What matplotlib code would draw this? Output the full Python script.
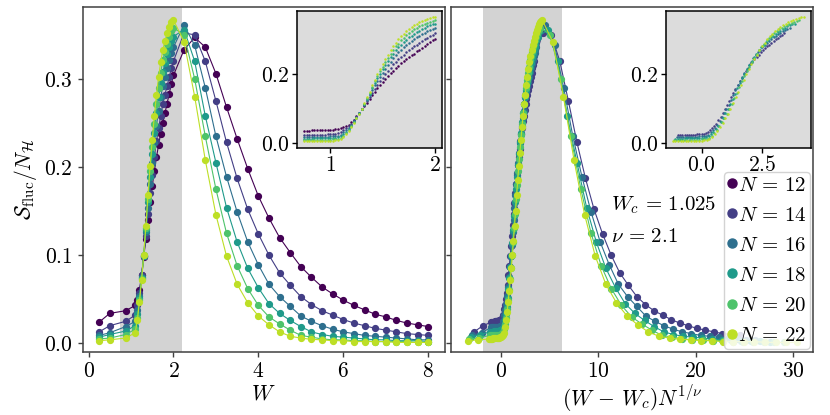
import numpy as np
import matplotlib
matplotlib.use('Agg')
import matplotlib.pyplot as plt
from matplotlib.lines import Line2D

plt.rcParams['font.family'] = 'serif'
plt.rcParams['font.serif'] = ['cmr10']
plt.rcParams['mathtext.fontset'] = 'cm'
plt.rcParams['axes.formatter.use_mathtext'] = True
plt.rcParams['axes.unicode_minus'] = False
plt.rcParams['font.size'] = 15.5

# ---- data ----
N_values = [12, 14, 16, 18, 20, 22]
W_c = 1.025
nu = 2.1

# coarse disorder grid (outside the fine window)
W_low = [0.25, 0.5]
W_high = [2.25, 2.5, 2.75, 3.0, 3.25, 3.5, 3.75, 4.0, 4.25, 4.5, 4.75, 5.0,
          5.25, 5.5, 5.75, 6.0, 6.25, 6.5, 6.75, 7.0, 7.25, 7.5, 7.75, 8.0]

S_low = {
    12: [0.024, 0.034],
    14: [0.013, 0.020],
    16: [0.009, 0.012],
    18: [0.007, 0.010],
    20: [0.005, 0.006],
    22: [0.003, 0.004],
}

S_high = {
    12: [.333, .347, .336, .306, .268, .232, .198, .167, .142, .120, .103, .087,
         .075, .064, .056, .049, .043, .038, .033, .030, .026, .023, .021, .019],
    14: [.352, .350, .320, .275, .228, .187, .152, .124, .100, .080, .066, .053,
         .044, .037, .032, .027, .023, .020, .017, .015, .013, .011, .010, .009],
    16: [.361, .338, .290, .235, .189, .149, .115, .089, .067, .053, .042, .031,
         .025, .020, .016, .013, .011, .009, .008, .007, .006, .005, .004, .004],
    18: [.356, .320, .258, .205, .154, .115, .085, .063, .045, .034, .026, .019,
         .013, .010, .008, .007, .006, .005, .004, .004, .003, .003, .003, .002],
    20: [.350, .300, .235, .175, .125, .088, .062, .043, .030, .022, .015, .009,
         .007, .005, .004, .004, .003, .003, .002, .002, .002, .002, .001, .001],
    22: [.342, .280, .208, .146, .099, .067, .046, .031, .021, .013, .008, .006,
         .0045, .004, .003, .003, .002, .002, .002, .002, .001, .001, .001, .001],
}

# fine disorder grid (inset window)
W_fine = [0.75, 0.775, 0.8, 0.825, 0.85, 0.875, 0.9, 0.925, 0.95, 0.975,
          1.0, 1.025, 1.05, 1.075, 1.1, 1.125, 1.15, 1.175, 1.2, 1.225,
          1.25, 1.275, 1.3, 1.325, 1.35, 1.375, 1.4, 1.425, 1.45, 1.475,
          1.5, 1.525, 1.55, 1.575, 1.6, 1.625, 1.65, 1.675, 1.7, 1.725,
          1.75, 1.775, 1.8, 1.825, 1.85, 1.875, 1.9, 1.925, 1.95, 1.975, 2.0]

S_fine = {
    12: [.036, .036, .036, .037, .037, .037, .037, .037, .038, .038, .038, .039, .040, .041, .043,
         .046, .049, .054, .060, .068, .078, .088, .098, .108, .118, .129, .140, .150, .160, .169,
         .178, .187, .195, .203, .211, .218, .225, .232, .238, .244, .250, .256, .261, .267, .272,
         .278, .283, .289, .294, .299, .304],
    14: [.024, .024, .024, .024, .025, .025, .025, .025, .025, .026, .026, .026, .027, .029, .032,
         .039, .043, .050, .057, .066, .077, .088, .099, .110, .122, .134, .147, .159, .170, .181,
         .191, .202, .211, .220, .229, .237, .244, .252, .258, .265, .271, .277, .282, .287, .292,
         .298, .302, .307, .312, .316, .320],
    16: [.018, .018, .018, .018, .018, .019, .019, .019, .019, .019, .020, .020, .021, .022, .025,
         .032, .038, .045, .054, .064, .075, .087, .099, .112, .126, .140, .154, .168, .181, .193,
         .205, .216, .227, .237, .247, .256, .264, .272, .279, .285, .292, .297, .302, .308, .312,
         .317, .321, .326, .329, .333, .336],
    18: [.013, .013, .013, .013, .014, .014, .014, .014, .014, .014, .015, .015, .016, .017, .020,
         .026, .033, .041, .051, .062, .074, .087, .099, .114, .129, .144, .160, .175, .189, .202,
         .215, .228, .239, .251, .261, .271, .279, .287, .295, .301, .308, .313, .318, .324, .328,
         .333, .336, .340, .343, .346, .348],
    20: [.009, .009, .009, .009, .010, .010, .010, .010, .010, .010, .010, .011, .011, .013, .016,
         .022, .029, .039, .049, .060, .073, .086, .100, .115, .131, .147, .164, .180, .195, .209,
         .223, .236, .249, .261, .271, .282, .290, .299, .307, .314, .321, .326, .331, .336, .340,
         .344, .348, .351, .354, .356, .358],
    22: [.005, .005, .005, .005, .006, .006, .006, .006, .006, .006, .007, .007, .008, .009, .012,
         .018, .026, .036, .047, .059, .072, .086, .100, .116, .133, .150, .168, .185, .201, .216,
         .231, .245, .258, .271, .282, .293, .302, .311, .319, .326, .333, .338, .343, .348, .352,
         .356, .359, .362, .364, .366, .367],
}

# fine points that also appear in the left main panel
W_fine_main = [0.875, 1.1, 1.15, 1.2, 1.25, 1.3, 1.35, 1.4, 1.45, 1.5, 1.55, 1.6,
               1.65, 1.7, 1.75, 1.8, 1.85, 1.9, 1.95, 2.0]

colors = plt.cm.viridis(np.linspace(0, 0.9, len(N_values)))

fig, (ax1, ax2) = plt.subplots(1, 2, sharey=True, figsize=(8.3, 4.15), dpi=100)
fig.subplots_adjust(left=0.0996, right=0.98, top=0.982, bottom=0.1525, wspace=0.0185)

ins1 = ax1.inset_axes([0.593, 0.593, 0.399, 0.397])
ins2 = ax2.inset_axes([0.593, 0.593, 0.399, 0.397])

ax1.axvspan(0.75, 2.2, color='lightgray', lw=0, zorder=0)
ax2.axvspan(-1.8, 6.3, color='lightgray', lw=0, zorder=0)

Wf = np.array(W_fine)
for N, c in zip(N_values, colors):
    sf = np.array(S_fine[N])
    keep = np.isin(np.round(Wf, 3), np.round(W_fine_main, 3))
    W_left = np.concatenate([W_low, Wf[keep], W_high])
    S_left = np.concatenate([S_low[N], sf[keep], S_high[N]])
    ax1.plot(W_left, S_left, 'o-', color=c, ms=4.2, lw=0.8)
    ins1.plot(Wf, sf, 'o', color=c, ms=1.8, mew=0)

    if N == 12:
        continue
    scale = N ** (1.0 / nu)
    W_all = np.concatenate([W_low, Wf, W_high])
    S_all = np.concatenate([S_low[N], sf, S_high[N]])
    ax2.plot((W_all - W_c) * scale, S_all, 'o-', color=c, ms=4.2, lw=0.8)
    ins2.plot((Wf - W_c) * scale, sf, 'o', color=c, ms=1.8, mew=0)

ax1.set_ylim(-0.0095, 0.381)
ax1.set_yticks([0.0, 0.1, 0.2, 0.3])
ax1.set_xticks([0, 2, 4, 6, 8])
ax2.set_xticks([0, 10, 20, 30])
ax1.set_xlabel(r'$W$', labelpad=2)
ax2.set_xlabel(r'$(W\,-\,W_c)N^{1/\nu}$', labelpad=2)
ax1.set_ylabel(r'$\mathcal{S}_{\rm fluc}/N_{\mathcal{H}}$')

ins1.set_xticks([1, 2])
ins1.set_yticks([0.0, 0.2])
ins2.set_xticks([0.0, 2.5])
ins2.set_yticks([0.0, 0.2])

for ax in (ax1, ax2):
    for sp in ax.spines.values():
        sp.set_color('0.25')
        sp.set_linewidth(1.1)
    ax.tick_params(direction='out', length=3.5, width=1, color='0.25')
for ax in (ins1, ins2):
    ax.set_facecolor('gainsboro')
    for sp in ax.spines.values():
        sp.set_color('black')
        sp.set_linewidth(1.1)
    ax.tick_params(direction='out', length=3.5, width=1, pad=2)

ax2.text(11.3, 0.157, r'$W_c\,=\,1.025$', va='center', ha='left', fontsize=15)
ax2.text(11.3, 0.121, r'$\nu\,=\,2.1$', va='center', ha='left', fontsize=15)

handles = [Line2D([], [], marker='o', ls='none', color=c, ms=6.5) for c in colors]
labels = [r'$N\,=\,%d$' % N for N in N_values]
leg = ax2.legend(handles, labels, loc='lower right', bbox_to_anchor=(1.0, 0.0),
                 borderaxespad=0.15, handlelength=0.45, handletextpad=0.05,
                 borderpad=0.18, labelspacing=0.55, framealpha=0.85, fontsize=15)
leg.set_zorder(10)

fig.savefig('out.png', dpi=100)
